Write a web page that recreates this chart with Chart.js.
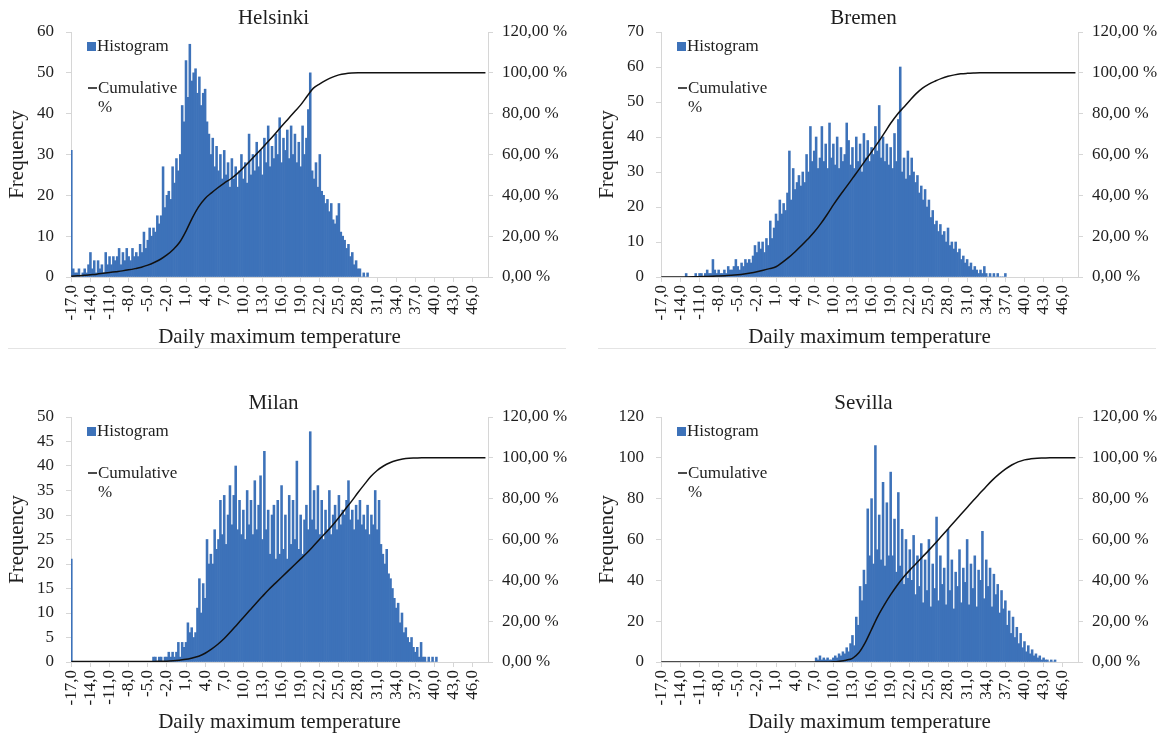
<!DOCTYPE html>
<html lang="en">
<head>
<meta charset="UTF-8" />
<title>Daily maximum temperature histograms</title>
<script src="https://cdn.jsdelivr.net/npm/chart.js"></script>
<style>
  body { margin: 0; background: #fff; width: 1168px; height: 738px; position: relative; overflow: hidden; }
  .panel { position: absolute; width: 567px; height: 350px; }
  .rule { position: absolute; height: 1px; background: #e4e4e4; }
</style>
</head>
<body>
  <div class="panel" style="left:0;top:0"><canvas id="helsinki" width="567" height="350"></canvas></div>
  <div class="panel" style="left:590px;top:0"><canvas id="bremen" width="567" height="350"></canvas></div>
  <div class="panel" style="left:0;top:385px"><canvas id="milan" width="567" height="350"></canvas></div>
  <div class="panel" style="left:590px;top:385px"><canvas id="sevilla" width="567" height="350"></canvas></div>
  <div class="rule" style="left:8px;top:348px;width:558px"></div>
  <div class="rule" style="left:598px;top:348px;width:558px"></div>
<script>
const binWidth = 0.3;

const helsinkiStart = -17.0;
const helsinkiFreq = [
  31, 2, 1, 1, 2, 0, 1, 2, 1, 3,
  6, 2, 4, 1, 4, 2, 3, 1, 6, 3,
  5, 3, 5, 4, 5, 7, 3, 6, 4, 7,
  5, 4, 7, 5, 6, 5, 8, 6, 11, 7,
  9, 12, 10, 12, 11, 15, 13, 15, 27, 17,
  20, 21, 19, 27, 23, 29, 26, 30, 42, 38,
  53, 44, 57, 48, 50, 51, 45, 49, 42, 45,
  46, 38, 35, 30, 34, 27, 32, 26, 30, 24,
  31, 25, 28, 22, 29, 24, 27, 22, 26, 30,
  24, 28, 23, 35, 25, 30, 26, 33, 27, 31,
  25, 34, 28, 37, 27, 32, 29, 35, 30, 39,
  28, 34, 31, 36, 29, 37, 30, 35, 28, 33,
  27, 37, 30, 34, 41, 50, 26, 24, 28, 22,
  30, 21, 20, 18, 19, 16, 18, 14, 13, 15,
  18, 11, 10, 9, 7, 8, 5, 6, 3, 4,
  2, 2, 0, 1, 0, 1
];

const bremenStart = -13.1;
const bremenFreq = [
  1, 0, 0, 0, 0, 1, 0, 1, 1, 0,
  1, 2, 1, 1, 5, 2, 1, 2, 1, 1,
  2, 1, 3, 2, 2, 3, 5, 3, 2, 4,
  3, 5, 4, 5, 4, 6, 9, 7, 10, 8,
  10, 7, 11, 9, 16, 11, 14, 18, 16, 22,
  18, 21, 19, 24, 36, 22, 31, 25, 27, 29,
  26, 30, 27, 35, 30, 43, 33, 36, 40, 31,
  34, 43, 33, 38, 31, 44, 34, 38, 32, 40,
  31, 37, 33, 35, 44, 39, 32, 37, 31, 40,
  33, 38, 30, 41, 34, 39, 33, 37, 35, 43,
  36, 49, 34, 40, 33, 38, 32, 37, 31, 41,
  33, 45, 60, 30, 34, 28, 36, 29, 34, 30,
  27, 29, 24, 26, 22, 25, 20, 22, 17, 19,
  15, 16, 13, 15, 12, 13, 10, 14, 9, 10,
  8, 10, 7, 8, 5, 6, 4, 5, 3, 4,
  2, 3, 2, 1, 2, 1, 3, 1, 0, 1,
  0, 1, 0, 1, 0, 0, 0, 1
];

const milanStart = -17.0;
const milanFreq = [
  21, 0, 0, 0, 0, 0, 0, 0, 0, 0,
  0, 0, 0, 0, 0, 0, 0, 0, 0, 0,
  0, 0, 0, 0, 0, 0, 0, 0, 0, 0,
  0, 0, 0, 0, 0, 0, 0, 0, 0, 0,
  0, 0, 0, 1, 1, 0, 1, 1, 0, 1,
  1, 2, 1, 2, 1, 2, 4, 1, 4, 3,
  4, 8, 6, 7, 5, 6, 11, 17, 10, 16,
  13, 25, 20, 22, 20, 27, 23, 25, 33, 26,
  34, 24, 30, 36, 28, 34, 40, 27, 33, 26,
  31, 25, 35, 28, 33, 26, 37, 27, 32, 38,
  25, 43, 27, 31, 22, 30, 32, 21, 33, 22,
  36, 23, 30, 21, 34, 24, 33, 25, 41, 23,
  30, 22, 29, 32, 27, 47, 29, 35, 27, 36,
  26, 33, 25, 31, 27, 35, 26, 30, 32, 27,
  34, 28, 31, 30, 33, 37, 29, 31, 27, 32,
  29, 33, 28, 30, 27, 32, 26, 30, 28, 35,
  27, 33, 24, 22, 20, 23, 18, 17, 15, 13,
  11, 12, 8, 10, 6, 7, 5, 4, 5, 3,
  2, 3, 1, 4, 1, 1, 0, 1, 0, 1,
  0, 1
];

const sevillaStart = 7.3;
const sevillaFreq = [
  2, 1, 3, 1, 2, 1, 2, 1, 1, 2,
  3, 2, 4, 3, 5, 4, 7, 5, 9, 13,
  8, 22, 18, 37, 30, 45, 38, 75, 52, 80,
  48, 106, 55, 72, 50, 88, 47, 78, 52, 93,
  52, 70, 44, 83, 47, 65, 38, 60, 41, 55,
  40, 62, 33, 52, 37, 58, 29, 50, 35, 60,
  27, 48, 36, 71, 30, 52, 38, 46, 28, 65,
  35, 50, 26, 44, 37, 55, 29, 46, 39, 60,
  28, 48, 36, 52, 27, 45, 40, 64, 31, 50,
  37, 46, 27, 43, 33, 38, 24, 35, 26, 30,
  18, 25, 14, 22, 12, 17, 9, 14, 7, 10,
  5, 8, 4, 6, 3, 4, 2, 3, 1, 2,
  1, 1, 0, 1, 0, 1
];

// cumulative %, one value per whole degree from -17 to 48
const cumStart = -17;
const helsinkiCum = [
  0.4, 0.6, 0.8, 1.1, 1.4, 1.8, 2.2, 2.6, 3.0, 3.5,
  4.1, 4.8, 5.8, 7.1, 8.7, 10.8, 13.5, 17.0, 22.5, 29.0,
  34.5, 38.5, 41.2, 43.7, 46.0, 48.0, 50.5, 53.5, 56.7, 60.0,
  63.3, 66.7, 70.2, 73.8, 77.3, 80.8, 84.3, 88.5, 92.5, 94.6,
  96.4, 97.9, 99.0, 99.6, 99.9, 100, 100, 100, 100, 100,
  100, 100, 100, 100, 100, 100, 100, 100, 100, 100,
  100, 100, 100, 100, 100, 100
];
const bremenCum = [
  0, 0, 0, 0, 0.05, 0.1, 0.15, 0.25, 0.35, 0.5,
  0.65, 0.8, 1.1, 1.5, 2.0, 2.6, 3.3, 4.1, 5.0, 7.2,
  9.6, 12.4, 15.4, 18.6, 22.0, 26.0, 30.5, 35.3, 39.8, 44.0,
  48.3, 52.6, 57.0, 61.3, 65.8, 70.5, 75.3, 79.5, 83.0, 86.5,
  89.8, 92.5, 94.5, 96.0, 97.3, 98.3, 99.0, 99.5, 99.75, 99.9,
  100, 100, 100, 100, 100, 100, 100, 100, 100, 100,
  100, 100, 100, 100, 100, 100
];
const milanCum = [
  0.3, 0.3, 0.3, 0.3, 0.3, 0.3, 0.3, 0.3, 0.3, 0.3,
  0.3, 0.3, 0.3, 0.3, 0.35, 0.4, 0.6, 0.9, 1.3, 2.0,
  2.8, 4.3, 6.3, 8.7, 11.5, 14.8, 18.3, 21.8, 25.3, 28.8,
  32.2, 35.5, 38.5, 41.5, 44.5, 47.5, 50.5, 53.5, 56.8, 60.2,
  63.5, 67.0, 70.8, 74.8, 78.8, 83.0, 87.0, 90.8, 93.8, 96.0,
  97.6, 98.7, 99.4, 99.8, 99.9, 100, 100, 100, 100, 100,
  100, 100, 100, 100, 100, 100
];
const sevillaCum = [
  0, 0, 0, 0, 0, 0, 0, 0, 0, 0,
  0, 0, 0, 0, 0, 0, 0, 0, 0, 0,
  0, 0, 0, 0, 0, 0, 0.05, 0.1, 0.4, 0.9,
  1.8, 4.5, 9.5, 16, 22.5, 28, 33, 37.5, 41.5, 45,
  48.2, 51.5, 54.8, 58.2, 61.7, 65.2, 68.7, 72.2, 75.7, 79.2,
  82.6, 86, 89.2, 92, 94.5, 96.5, 98, 99, 99.5, 99.8,
  99.9, 100, 100, 100, 100, 100
];

const xTickValues = [-17, -14, -11, -8, -5, -2, 1, 4, 7, 10, 13, 16, 19, 22, 25, 28, 31, 34, 37, 40, 43, 46];
const xTickLabels = ['-17,0', '-14,0', '-11,0', '-8,0', '-5,0', '-2,0', '1,0', '4,0', '7,0', '10,0', '13,0',
  '16,0', '19,0', '22,0', '25,0', '28,0', '31,0', '34,0', '37,0', '40,0', '43,0', '46,0'];
const pctTickLabels = ['0,00 %', '20,00 %', '40,00 %', '60,00 %', '80,00 %', '100,00 %', '120,00 %'];

const barColor = '#3d72b9';
const axisColor = '#d6d6d6';
const textColor = '#1e1e1e';

Chart.defaults.font.family = '"Liberation Serif", "DejaVu Serif", serif';
Chart.defaults.color = textColor;

// title above the plot and the little legend inside the plot area
const panelText = {
  id: 'panelText',
  afterDraw(chart, args, opts) {
    const { ctx, chartArea: a } = chart;
    const ds = chart.data.datasets;
    ctx.save();
    ctx.textBaseline = 'middle';
    ctx.fillStyle = textColor;
    ctx.font = '21px "Liberation Serif"';
    ctx.textAlign = 'center';
    ctx.fillText(opts.title, (a.left + a.right) / 2 - 6, a.top - 14);
    ctx.textAlign = 'left';
    ctx.font = '17px "Liberation Serif"';
    ctx.fillStyle = barColor;
    ctx.fillRect(a.left + 16, a.top + 10, 9, 9);
    ctx.fillStyle = textColor;
    ctx.fillText(ds[0].label, a.left + 26, a.top + 15);
    ctx.strokeStyle = '#111';
    ctx.lineWidth = 1.5;
    ctx.beginPath();
    ctx.moveTo(a.left + 17, a.top + 56);
    ctx.lineTo(a.left + 26, a.top + 56);
    ctx.stroke();
    const words = ds[1].label.split(' ');
    ctx.fillText(words[0], a.left + 27, a.top + 57);
    ctx.fillText(words[1], a.left + 27, a.top + 76);
    ctx.restore();
  }
};

function makeChart(id, title, start, freq, cum, yMax, yStep) {
  const bars = freq.map((v, i) => ({ x: Math.round((start + i * binWidth) * 10) / 10, y: v }));
  const line = cum.map((v, i) => ({ x: cumStart + i, y: v }));
  new Chart(document.getElementById(id), {
    type: 'bar',
    data: {
      datasets: [
        { label: 'Histogram', data: bars, backgroundColor: barColor, borderWidth: 0,
          categoryPercentage: 1, barPercentage: 1, yAxisID: 'y', order: 2 },
        { type: 'line', label: 'Cumulative %', data: line, borderColor: '#111', borderWidth: 1.5,
          pointRadius: 0, cubicInterpolationMode: 'monotone', yAxisID: 'y2', order: 1 }
      ]
    },
    options: {
      responsive: false,
      animation: false,
      layout: { padding: { top: 32, left: 0, right: 0, bottom: 0 } },
      plugins: {
        legend: { display: false },
        tooltip: { enabled: false },
        panelText: { title }
      },
      scales: {
        x: {
          type: 'linear', min: -17.05, max: 48.4, offset: false,
          afterBuildTicks: s => { s.ticks = xTickValues.map(v => ({ value: v })); },
          afterFit: s => { s.height = 73; },
          ticks: { autoSkip: false, minRotation: 90, maxRotation: 90, padding: 3, font: { size: 17 },
                   callback: (v, i) => xTickLabels[i] },
          grid: { drawOnChartArea: false, tickLength: 5, color: axisColor, offset: false },
          border: { color: axisColor },
          title: { display: true, text: 'Daily maximum temperature', font: { size: 21 }, padding: { top: 0, bottom: 0 } }
        },
        y: {
          position: 'left', min: 0, max: yMax,
          afterFit: s => { s.width = 71; },
          ticks: { stepSize: yStep, padding: 12, font: { size: 17 } },
          grid: { drawOnChartArea: false, tickLength: 5, color: axisColor },
          border: { color: axisColor },
          title: { display: true, text: 'Frequency', font: { size: 21 }, padding: { top: 5, bottom: 0 } }
        },
        y2: {
          position: 'right', min: 0, max: 120,
          afterFit: s => { s.width = 79; },
          ticks: { stepSize: 20, padding: 9, font: { size: 17 }, callback: (v, i) => pctTickLabels[i] },
          grid: { drawOnChartArea: false, tickLength: 5, color: axisColor },
          border: { color: axisColor }
        }
      }
    },
    plugins: [panelText]
  });
}

makeChart('helsinki', 'Helsinki', helsinkiStart, helsinkiFreq, helsinkiCum, 60, 10);
makeChart('bremen', 'Bremen', bremenStart, bremenFreq, bremenCum, 70, 10);
makeChart('milan', 'Milan', milanStart, milanFreq, milanCum, 50, 5);
makeChart('sevilla', 'Sevilla', sevillaStart, sevillaFreq, sevillaCum, 120, 20);
</script>
</body>
</html>
